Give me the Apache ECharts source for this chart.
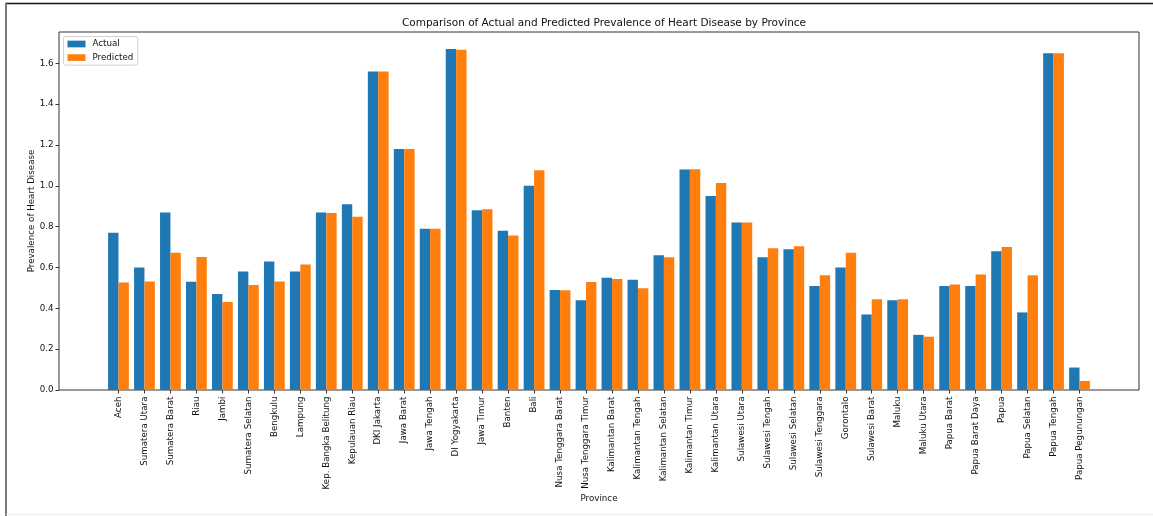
<!DOCTYPE html>
<html>
<head>
<meta charset="utf-8">
<script src="https://cdn.jsdelivr.net/npm/echarts@6/dist/echarts.min.js"></script>
<style>
html,body{margin:0;padding:0;background:#fff;}
#c{width:1153px;height:516px;}
</style>
</head>
<body>
<div id="c"></div>
<script>
const provinces = ["Aceh","Sumatera Utara","Sumatera Barat","Riau","Jambi","Sumatera Selatan","Bengkulu","Lampung","Kep. Bangka Belitung","Kepulauan Riau","DKI Jakarta","Jawa Barat","Jawa Tengah","DI Yogyakarta","Jawa Timur","Banten","Bali","Nusa Tenggara Barat","Nusa Tenggara Timur","Kalimantan Barat","Kalimantan Tengah","Kalimantan Selatan","Kalimantan Timur","Kalimantan Utara","Sulawesi Utara","Sulawesi Tengah","Sulawesi Selatan","Sulawesi Tenggara","Gorontalo","Sulawesi Barat","Maluku","Maluku Utara","Papua Barat","Papua Barat Daya","Papua","Papua Selatan","Papua Tengah","Papua Pegunungan"];
const actual = [0.77,0.60,0.87,0.53,0.47,0.58,0.63,0.58,0.87,0.91,1.56,1.18,0.79,1.67,0.88,0.78,1.00,0.49,0.44,0.55,0.54,0.66,1.08,0.95,0.82,0.65,0.69,0.51,0.60,0.37,0.44,0.27,0.51,0.51,0.68,0.38,1.65,0.11];
const predicted = [0.526,0.532,0.672,0.651,0.431,0.514,0.532,0.615,0.867,0.849,1.56,1.18,0.79,1.667,0.885,0.757,1.076,0.488,0.529,0.544,0.498,0.650,1.081,1.014,0.821,0.694,0.704,0.562,0.672,0.444,0.444,0.261,0.517,0.566,0.700,0.562,1.65,0.044];
const yTicks = [0.0,0.2,0.4,0.6,0.8,1.0,1.2,1.4,1.6];
const yMax = 1.7535;

const FONT = "DejaVu Sans";
const chart = echarts.init(document.getElementById('c'), null, {renderer:'canvas'});
chart.setOption({
  animation:false,
  backgroundColor:'#fff',
  textStyle:{fontFamily:FONT},
  title:{
    text:'Comparison of Actual and Predicted Prevalence of Heart Disease by Province',
    left:599, textAlign:'center', top:13,
    textStyle:{fontFamily:FONT,fontSize:10.5,fontWeight:'normal',color:'#111'}
  },
  legend:{
    orient:'vertical', left:63.5, top:36.5,
    data:['Actual','Predicted'],
    icon:'rect', itemWidth:18, itemHeight:6.7, itemGap:3.6,
    padding:[2.5,4.5,2.5,4],
    backgroundColor:'#fff', borderColor:'#d0d0d0', borderWidth:1, borderRadius:2,
    textStyle:{fontFamily:FONT,fontSize:8.7,color:'#111',lineHeight:10,padding:[0,0,0,2]}
  },
  grid:[
    {left:59, top:32, width:1080, height:358, show:true, borderColor:'#333', borderWidth:1, backgroundColor:'transparent'},
    {left:105.5, top:32, width:987, height:358, show:false}
  ],
  xAxis:[
    {gridIndex:0, type:'value', min:0, max:1, show:false},
    {gridIndex:1, type:'category', data:provinces,
      axisLine:{show:false},
      axisTick:{show:true, alignWithLabel:true, length:3.5, lineStyle:{color:'#333'}},
      axisLabel:{interval:0, rotate:90, margin:6.5, fontFamily:FONT, fontSize:8.7, color:'#111'},
      name:'Province', nameLocation:'middle', nameGap:104, nameMoveOverlap:false,
      nameTextStyle:{fontFamily:FONT, fontSize:8.7, color:'#111'}
    }
  ],
  yAxis:[
    {gridIndex:0, type:'value', min:0, max:yMax, interval:0.2,
      axisLine:{show:false},
      splitLine:{show:false},
      axisTick:{show:true, length:3.5, lineStyle:{color:'#333'}, customValues:yTicks},
      axisLabel:{margin:5.5, fontFamily:FONT, fontSize:8.7, color:'#111', customValues:yTicks,
        formatter:v=>v.toFixed(1)},
      name:'Prevalence of Heart Disease', nameLocation:'middle', nameGap:23, nameMoveOverlap:false,
      nameTextStyle:{fontFamily:FONT, fontSize:8.7, color:'#111'}
    },
    {gridIndex:1, type:'value', min:0, max:yMax, show:false}
  ],
  series:[
    {name:'Actual', type:'bar', xAxisIndex:1, yAxisIndex:1, data:actual,
      barWidth:10.39, barGap:'0%', itemStyle:{color:'#1f77b4'}},
    {name:'Predicted', type:'bar', xAxisIndex:1, yAxisIndex:1, data:predicted,
      barWidth:10.39, barGap:'0%', itemStyle:{color:'#ff7f0e'}}
  ],
  graphic:[
    {type:'line', shape:{x1:5,y1:3.5,x2:1153,y2:3.5}, style:{stroke:'#111',lineWidth:1.5}},
    {type:'line', shape:{x1:6,y1:3,x2:6,y2:516}, style:{stroke:'#777',lineWidth:2}},
    {type:'line', shape:{x1:6,y1:514.5,x2:1153,y2:514.5}, style:{stroke:'#eeeeee',lineWidth:1}}
  ]
});
</script>
</body>
</html>
